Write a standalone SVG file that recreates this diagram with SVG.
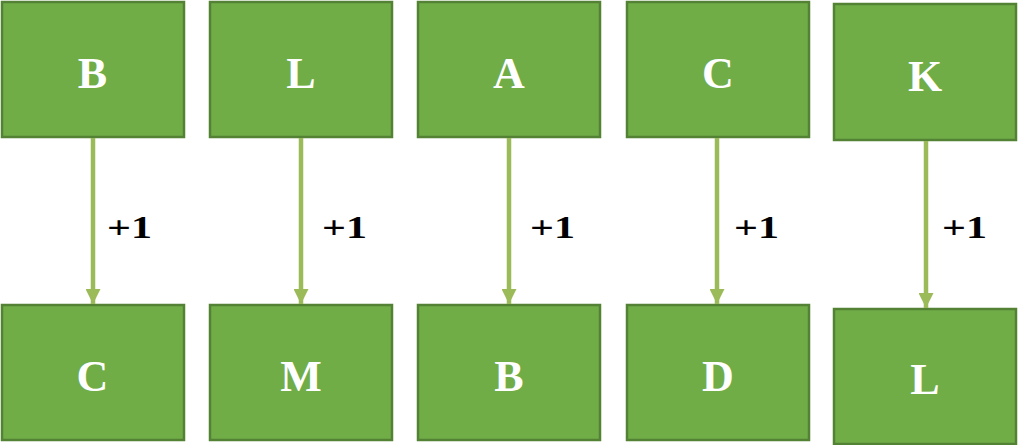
<svg xmlns="http://www.w3.org/2000/svg" width="1023" height="445" viewBox="0 0 1023 445">
<style>
.box{fill:#70AD47;stroke:#548235;stroke-width:2.5}
.lt{font-family:"Liberation Serif",serif;font-weight:bold;font-size:44px;fill:#fff;text-anchor:middle}
.lb{font-family:"Liberation Serif",serif;font-weight:bold;font-size:32px;fill:#000}
.ar{stroke:#9BBB59;stroke-width:4.5;fill:none}
</style>
<defs>
<marker id="ah" markerUnits="userSpaceOnUse" markerWidth="16" markerHeight="15" refX="15" refY="7.5" orient="auto">
<path d="M0,0 L15,7.5 L0,15 Z" fill="#9BBB59"/>
</marker>
</defs>
<g id="n1"><rect class="box" x="2" y="2" width="182" height="135"/><text class="lt" x="92.5" y="88">B</text></g>
<g id="n2"><rect class="box" x="210" y="2" width="182" height="135"/><text class="lt" x="301" y="88">L</text></g>
<g id="n3"><rect class="box" x="418" y="2" width="182" height="135"/><text class="lt" x="509" y="88">A</text></g>
<g id="n4"><rect class="box" x="627" y="2" width="182" height="135"/><text class="lt" x="718" y="88">C</text></g>
<g id="n5"><rect class="box" x="834" y="4" width="182" height="136"/><text class="lt" x="925" y="91">K</text></g>
<g id="m1"><rect class="box" x="2" y="305" width="182" height="135"/><text class="lt" x="92.5" y="391">C</text></g>
<g id="m2"><rect class="box" x="210" y="305" width="182" height="135"/><text class="lt" x="301" y="391">M</text></g>
<g id="m3"><rect class="box" x="418" y="305" width="182" height="135"/><text class="lt" x="509" y="391">B</text></g>
<g id="m4"><rect class="box" x="627" y="305" width="182" height="135"/><text class="lt" x="718" y="391">D</text></g>
<g id="m5"><rect class="box" x="834" y="309" width="182" height="135"/><text class="lt" x="925" y="394">L</text></g>
<g id="connectors">
<line class="ar" x1="93" y1="138" x2="93" y2="304" marker-end="url(#ah)"/>
<line class="ar" x1="301" y1="138" x2="301" y2="304" marker-end="url(#ah)"/>
<line class="ar" x1="509" y1="138" x2="509" y2="304" marker-end="url(#ah)"/>
<line class="ar" x1="717" y1="138" x2="717" y2="304" marker-end="url(#ah)"/>
<line class="ar" x1="926" y1="141" x2="926" y2="308" marker-end="url(#ah)"/>
<text class="lb" x="107" y="238" textLength="45" lengthAdjust="spacingAndGlyphs">+1</text>
<text class="lb" x="322" y="238" textLength="45" lengthAdjust="spacingAndGlyphs">+1</text>
<text class="lb" x="530" y="238" textLength="45" lengthAdjust="spacingAndGlyphs">+1</text>
<text class="lb" x="734" y="238" textLength="45" lengthAdjust="spacingAndGlyphs">+1</text>
<text class="lb" x="942" y="238" textLength="45" lengthAdjust="spacingAndGlyphs">+1</text>
</g>
</svg>
